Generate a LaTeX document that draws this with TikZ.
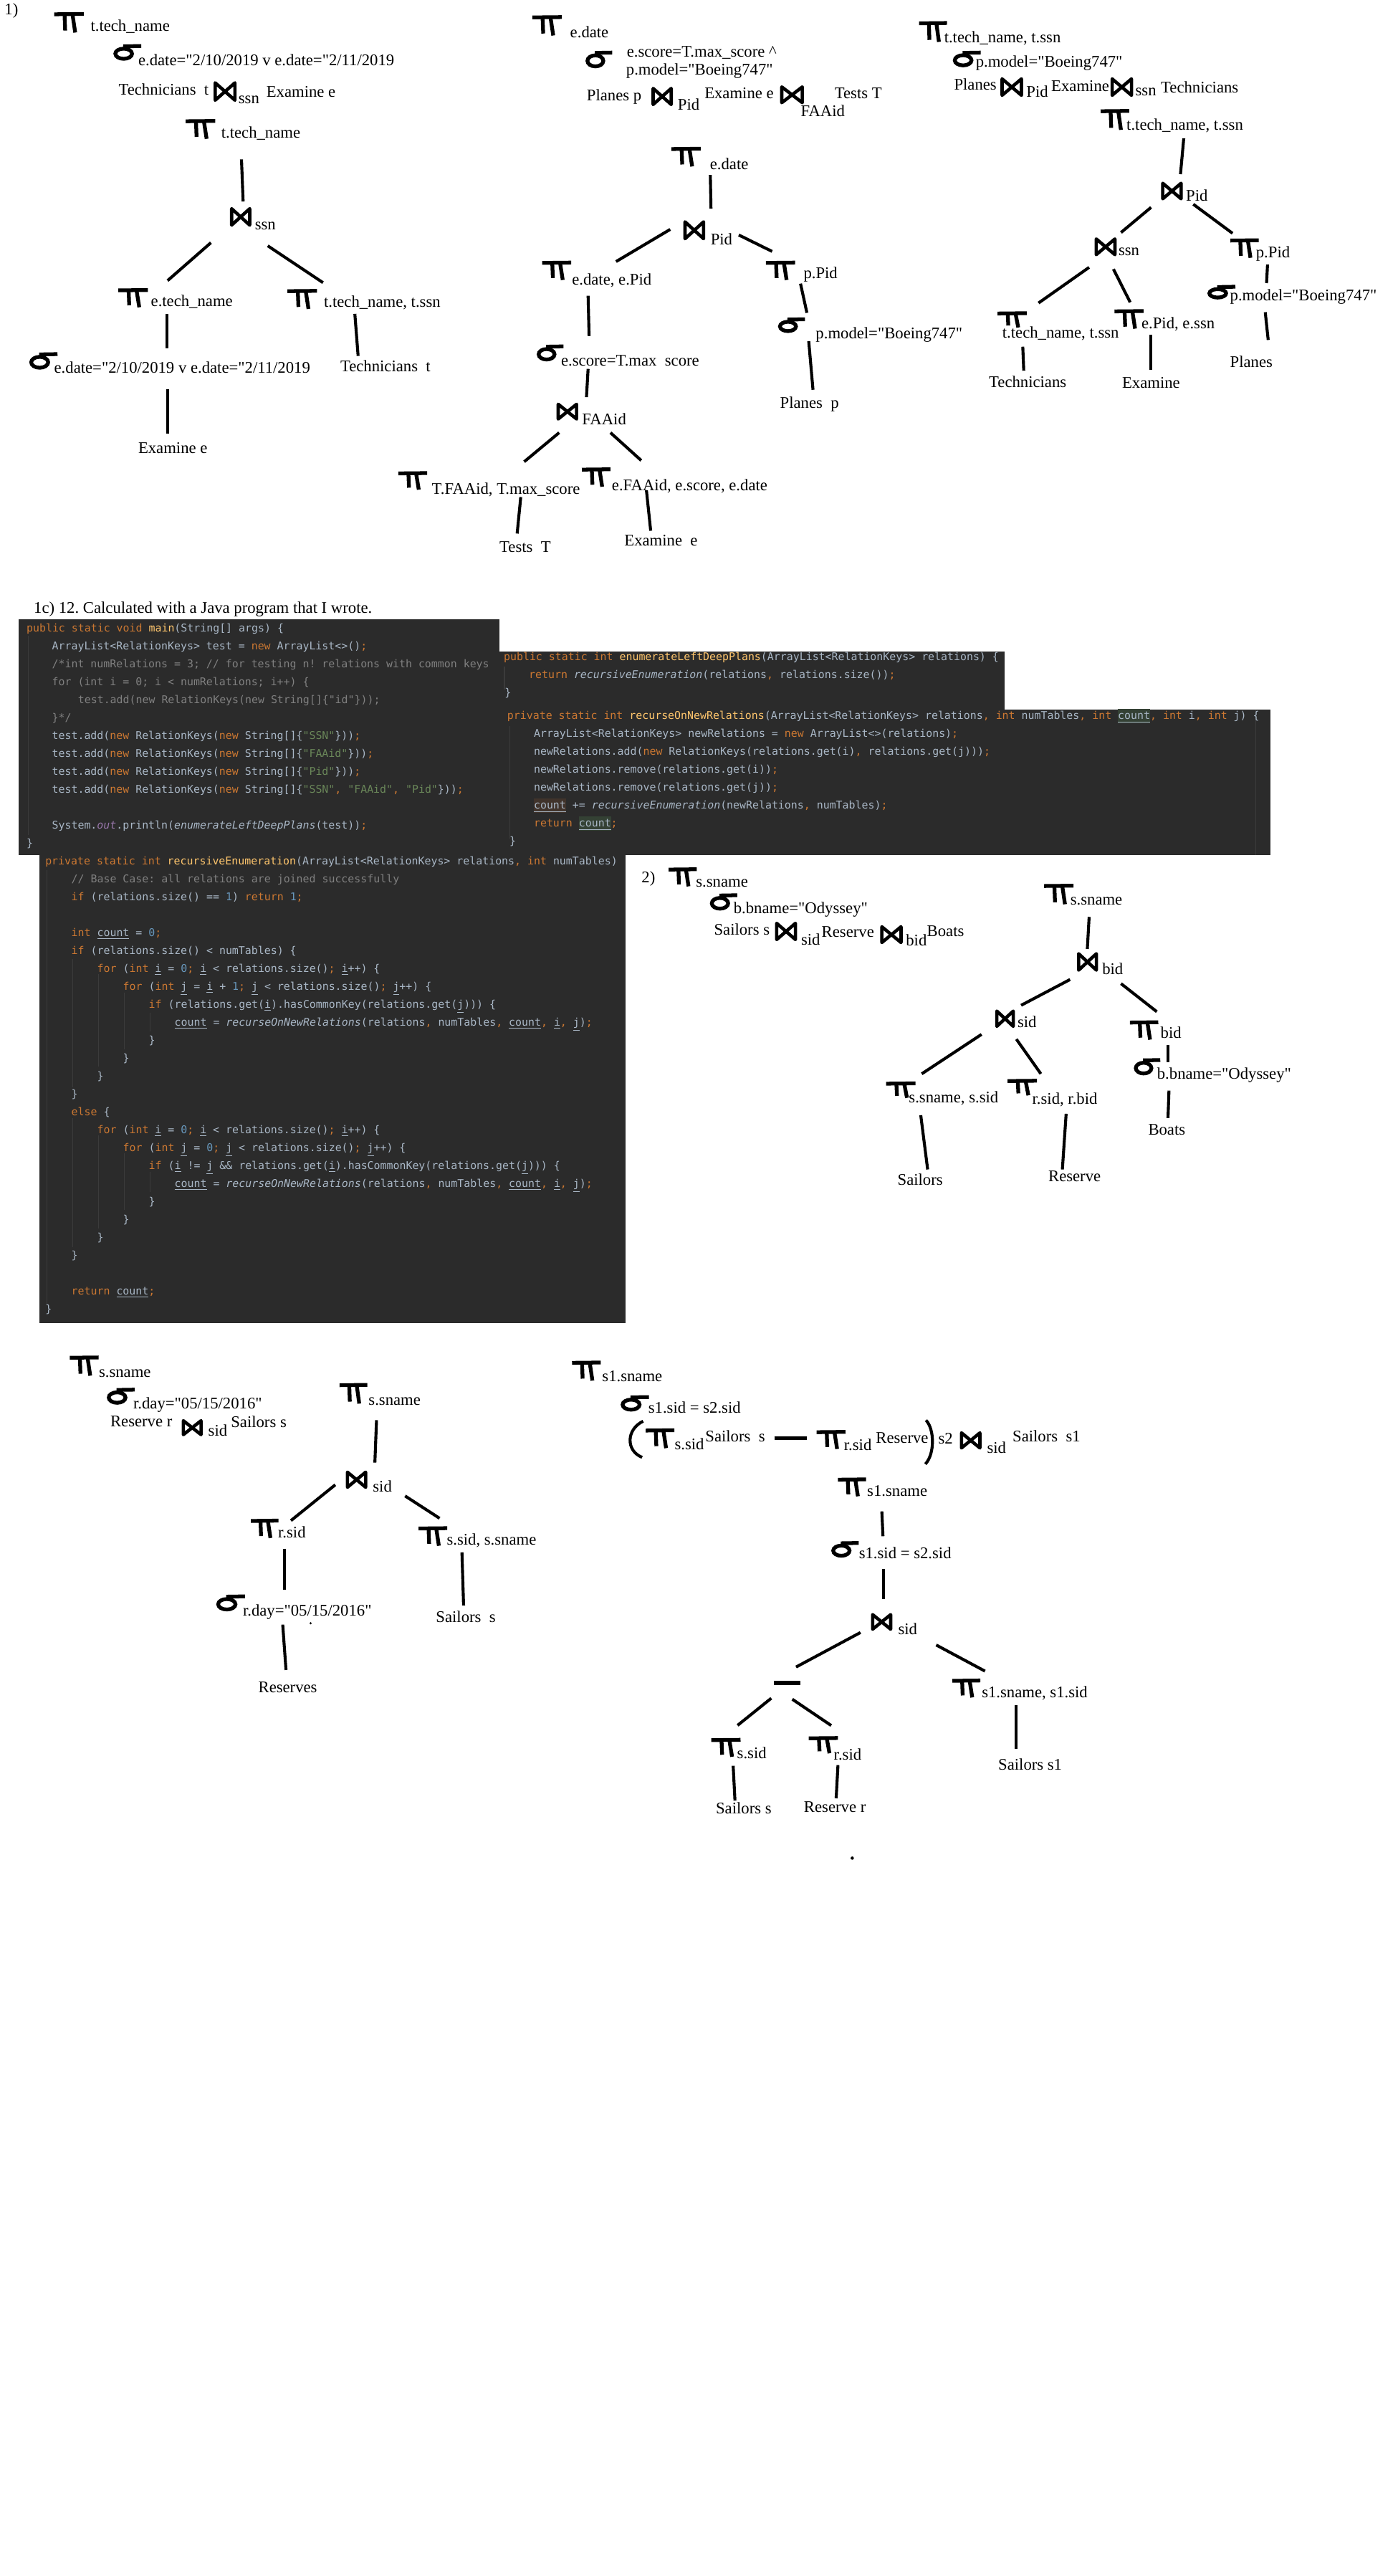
\documentclass[tikz,border=0pt]{standalone}
\usepackage{fontspec}
\setmainfont{Liberation Serif}[Ligatures=TeXOff]
\newfontfamily\codefont{DejaVu Sans Mono}[Ligatures=TeXOff]
\frenchspacing
\definecolor{cbg}{HTML}{2B2B2B}
\definecolor{ctext}{HTML}{A9B7C6}
\definecolor{ckwc}{HTML}{CC7832}
\definecolor{cfnc}{HTML}{FFC66D}
\definecolor{cstrc}{HTML}{6A8759}
\definecolor{cnumc}{HTML}{6897BB}
\definecolor{ccmtc}{HTML}{808080}
\definecolor{cpurc}{HTML}{9876AA}
\definecolor{cguide}{HTML}{3B3B3B}
\definecolor{creadbg}{HTML}{344134}
\definecolor{cwritebg}{HTML}{40332B}
\newcommand\ckw[1]{\textcolor{ckwc}{#1}}
\newcommand\cfn[1]{\textcolor{cfnc}{#1}}
\newcommand\cstr[1]{\textcolor{cstrc}{#1}}
\newcommand\cnum[1]{\textcolor{cnumc}{#1}}
\newcommand\ccmt[1]{\textcolor{ccmtc}{#1}}
\newcommand\cpu[1]{\textcolor{cpurc}{\textit{#1}}}
\newcommand\cit[1]{\textit{#1}}
\newcommand\cul[1]{\underline{#1}}
\newcommand\ccomma{\textcolor{ckwc}{,}}
\newcommand\csemi{\textcolor{ckwc}{;}}
\newcommand\crd[1]{{\setlength{\fboxsep}{0pt}\colorbox{creadbg}{\rule[-2.2pt]{0pt}{8.6pt}\underline{#1}}}}
\newcommand\cwr[1]{{\setlength{\fboxsep}{0pt}\colorbox{cwritebg}{\rule[-2.2pt]{0pt}{8.6pt}\underline{#1}}}}
% hand drawn symbols: x1 y1 x2 y2 (y grows downward)
\newcommand\symPi[4]{%
  \draw[sym] (#1,{#2+1.2}) -- (#3,{#2+1.0});
  \draw[sym] ({#1+0.35*(#3-#1)},{#2+1.5}) -- ({#1+0.37*(#3-#1)},{#4-1.2});
  \draw[sym] ({#1+0.62*(#3-#1)},{#2+1.5}) -- ({#1+0.71*(#3-#1)},#4);}
\newcommand\symSigma[4]{%
  \draw[sym] ({#1+0.37*(#3-#1)},{#2+0.57*(#4-#2)}) ellipse [x radius={0.37*(#3-#1)-1.2}, y radius={0.43*(#4-#2)-1.2}];
  \draw[sym] ({#1+0.35*(#3-#1)},{#2+1.2}) -- (#3,{#2+1.0});}
\newcommand\symJoin[4]{%
  \draw[jsym] ({#1+1},{#2+1}) -- ({#3-1},{#4-1}) -- ({#3-1},{#2+1}) -- ({#1+1},{#4-1}) -- cycle;}
\newcommand\conn[3]{\coordinate (#1s) at (#2); \coordinate (#1e) at (#3); \draw[conn] (#1s) -- (#1e);}
\begin{document}
\begin{tikzpicture}[x=1pt,y=-1pt,
  lbl/.style={anchor=base west, inner sep=0pt, font=\fontsize{9.9}{11}\selectfont},
  code/.style={anchor=base west, inner sep=0pt, text=ctext, font=\codefont\fontsize{6.5}{7}\selectfont},
  sym/.style={line width=2.3pt, line cap=butt},
  jsym/.style={line width=2pt, line join=round},
  conn/.style={line width=1.8pt},
  guide/.style={line width=0.5pt, draw=cguide}]
\useasboundingbox (0,0) rectangle (851,1567.7);
\fill[white] (0,0) rectangle (851,1567.7);

%================ Tree A =================
\node[lbl] (lab1) at (2.6,8.8) {1)};
\symPi{33}{7.5}{51}{19.8}
\node[lbl] (a1) at (55,18.9) {t.tech\_name};
\symSigma{69}{27}{86}{37}
\node[lbl] (a2) at (84,40) {e.date="2/10/2019 v e.date="2/11/2019};
\node[lbl] (a3) at (72,58) {Technicians\ \ t};
\symJoin{130}{49.4}{144}{62}
\node[lbl] (a4) at (145,63) {ssn};
\node[lbl] (a5) at (162,59) {Examine e};
\symPi{113}{72.6}{131}{84.5}
\node[lbl] (a6) at (134.5,84) {t.tech\_name};
\conn{ca1}{147,97}{148,122.6}
\symJoin{140}{126}{153}{138}
\node[lbl] (a7) at (155,140) {ssn};
\conn{ca2}{128.4,147.7}{102,170.8}
\conn{ca3}{163,149.6}{196.6,172}
\symPi{72}{175.5}{90}{187}
\node[lbl] (a8) at (91.7,186.4) {e.tech\_name};
\symPi{175}{176}{193}{188}
\node[lbl] (a9) at (197,187) {t.tech\_name, t.ssn};
\conn{ca4}{101.7,191}{101.7,212}
\conn{ca5}{216,191}{218,216.6}
\symSigma{17.8}{214.5}{35}{225}
\node[lbl] (a10) at (32.8,227) {e.date="2/10/2019 v e.date="2/11/2019};
\node[lbl] (a11) at (207,226) {Technicians\ \ t};
\conn{ca6}{102,236.8}{102,263.8}
\node[lbl] (a12) at (84,276) {Examine e};

%================ Tree B =================
\symPi{324}{9.4}{342}{21.6}
\node[lbl] (b1) at (346.9,23) {e.date};
\symSigma{356.4}{31}{372.7}{41.6}
\node[lbl] (b2) at (381.4,34.5) {e.score=T.max\_score \textasciicircum};
\node[lbl] (b3) at (381,45.7) {p.model="Boeing747"};
\node[lbl] (b4) at (357,61.2) {Planes p};
\symJoin{396.6}{52.8}{409.6}{64.6}
\node[lbl] (b5) at (412.4,66.8) {Pid};
\node[lbl] (b6) at (428.7,60) {Examine e};
\symJoin{474.9}{51.9}{489.4}{63.5}
\node[lbl] (b7) at (507.9,60) {Tests T};
\node[lbl] (b8) at (487.3,70.8) {FAAid};
\symPi{408.7}{89.5}{426.5}{101.3}
\node[lbl] (b9) at (432,103) {e.date};
\conn{cb1}{432.4,106.5}{432.8,127}
\symJoin{416}{134}{429.3}{146.3}
\node[lbl] (b10) at (432.4,148.8) {Pid};
\conn{cb2}{408,139.6}{375,159.2}
\conn{cb3}{449.7,143}{470,153}
\symPi{330}{158.8}{347.7}{170.4}
\node[lbl] (b11) at (348,173.3) {e.date, e.Pid};
\symPi{466.2}{158.8}{484}{170.4}
\node[lbl] (b12) at (489,169.3) {p.Pid};
\conn{cb4}{358,180}{358.6,204.5}
\conn{cb5}{487.3,172.6}{491.2,190.4}
\symSigma{326.7}{209.8}{343}{220}
\node[lbl] (b13) at (341.4,222.7) {e.score=T.max\phantom{\_}score};
\symSigma{473.6}{193.3}{490}{202.7}
\node[lbl] (b14) at (496.4,206) {p.model="Boeing747"};
\conn{cb6}{358,224.5}{357,241.7}
\symJoin{338.8}{245}{352}{256}
\node[lbl] (b15) at (354.2,258.4) {FAAid};
\conn{cb7}{340.4,263.3}{319.1,281}
\conn{cb8}{371.6,263.3}{390.3,280.2}
\conn{cb9}{492.3,207.6}{494.9,237.2}
\node[lbl] (b16) at (474.7,248.3) {Planes\ \ p};
\symPi{242.5}{286.9}{260}{298}
\node[lbl] (b17) at (262.7,300.7) {T.FAAid, T.max\_score};
\symPi{354.2}{284.6}{371.6}{296.2}
\node[lbl] (b18) at (372.3,298.4) {e.FAAid, e.score, e.date};
\conn{cb10}{317,302.5}{314.8,324.7}
\conn{cb11}{393.5,298.4}{396.1,323}
\node[lbl] (b19) at (303.9,336.3) {Tests\ \ T};
\node[lbl] (b20) at (379.9,332.3) {Examine\ \ e};

%================ Tree C =================
\symPi{559.5}{13}{576.5}{25.5}
\node[lbl] (c1) at (574.6,25.8) {t.tech\_name, t.ssn};
\symSigma{580}{31}{597}{41}
\node[lbl] (c2) at (593.8,41) {p.model="Boeing747"};
\node[lbl] (c3) at (580.6,54.9) {Planes};
\symJoin{609}{47}{622.8}{59}
\node[lbl] (c4) at (624.6,58.9) {Pid};
\node[lbl] (c5) at (639.8,55.7) {Examine};
\symJoin{676}{47}{689.8}{59}
\node[lbl] (c6) at (691,58.4) {ssn};
\node[lbl] (c7) at (706.5,56.5) {Technicians};
\symPi{670}{66.5}{687.4}{79}
\node[lbl] (c8) at (685.6,79) {t.tech\_name, t.ssn};
\conn{cc1}{720.6,84.2}{718.6,106}
\symJoin{706.8}{110.5}{720}{122}
\node[lbl] (c9) at (721.8,122.2) {Pid};
\conn{cc2}{700.7,126.2}{682.4,141.5}
\conn{cc3}{726.4,124.3}{750.3,142}
\symJoin{666.3}{144.4}{679.7}{156}
\node[lbl] (c10) at (680.7,155.7) {ssn};
\symPi{749}{145.2}{766.2}{156.9}
\node[lbl] (c11) at (764.4,156.9) {p.Pid};
\conn{cc4}{663,162.7}{632.2,184.4}
\conn{cc5}{677.8,163.8}{688,184}
\conn{cc6}{771.6,161}{771,172.3}
\symSigma{735}{173.5}{752}{182.3}
\node[lbl] (c12) at (748.6,183.2) {p.model="Boeing747"};
\symPi{607.2}{189.6}{625}{199.3}
\node[lbl] (c13) at (610,205.7) {t.tech\_name, t.ssn};
\symPi{678.4}{188.3}{696.1}{200}
\node[lbl] (c14) at (694.7,200) {e.Pid, e.ssn};
\conn{cc7}{770.2,190}{772,206.9}
\conn{cc8}{622.6,211}{623.2,225.6}
\conn{cc9}{700.7,203.6}{700.7,225}
\node[lbl] (c15) at (601.8,235.6) {Technicians};
\node[lbl] (c16) at (682.9,236.4) {Examine};
\node[lbl] (c17) at (748.6,223.5) {Planes};

%================ 1c text and code =================
\node[lbl] (q1) at (20.4,373) {1c) 12. Calculated with a Java program that I wrote.};

\fill[cbg] (11.3,376.9) rectangle (304,520.2);
\fill[cbg] (304,396.5) rectangle (611.6,431.8);
\fill[cbg] (304,431.8) rectangle (773.4,520.2);
\fill[cbg] (24.1,520.2) rectangle (381,805.1);

% guides
\draw[guide] (17.1,386.8) -- (17.1,508);
\draw[guide] (307.1,405.6) -- (307.1,419.5);
\draw[guide] (310.2,442) -- (310.2,510.3);
\draw[guide] (764.6,431.8) -- (764.6,520.2);
\draw[guide] (28.5,529.6) -- (28.5,794.3);
\draw[guide] (44.3,583.7) -- (44.3,661.9);
\draw[guide] (44.3,680.6) -- (44.3,758.9);
\draw[guide] (60,593) -- (60,648.9);
\draw[guide] (60,690.8) -- (60,747.7);
\draw[guide] (75.8,604.2) -- (75.8,638.7);
\draw[guide] (75.8,702) -- (75.8,736.5);
\draw[guide] (91.5,616.3) -- (91.5,627.5);
\draw[guide] (91.5,713.2) -- (91.5,725.3);

% block 1
\node[code] (k1) at (16,384.6) {\ckw{public static void} \cfn{main}(String[] args) \{};
\node[code] (k2) at (31.5,395.5) {ArrayList<RelationKeys> test = \ckw{new} ArrayList<>()\csemi};
\node[code] (k3) at (31.5,406.4) {\ccmt{/*int numRelations = 3; // for testing n! relations with common keys}};
\node[code] (k4) at (31.5,417.3) {\ccmt{for (int i = 0; i < numRelations; i++) \{}};
\node[code] (k5) at (47.3,428.2) {\ccmt{test.add(new RelationKeys(new String[]\{"id"\}));}};
\node[code] (k6) at (31.5,439.1) {\ccmt{\}*/}};
\node[code] (k7) at (31.5,450.0) {test.add(\ckw{new} RelationKeys(\ckw{new} String[]\{\cstr{"SSN"}\}))\csemi};
\node[code] (k8) at (31.5,460.9) {test.add(\ckw{new} RelationKeys(\ckw{new} String[]\{\cstr{"FAAid"}\}))\csemi};
\node[code] (k9) at (31.5,471.8) {test.add(\ckw{new} RelationKeys(\ckw{new} String[]\{\cstr{"Pid"}\}))\csemi};
\node[code] (k10) at (31.5,482.7) {test.add(\ckw{new} RelationKeys(\ckw{new} String[]\{\cstr{"SSN"}\ccomma{} \cstr{"FAAid"}\ccomma{} \cstr{"Pid"}\}))\csemi};
\node[code] (k11) at (31.5,504.5) {System.\cpu{out}.println(\cit{enumerateLeftDeepPlans}(test))\csemi};
\node[code] (k12) at (16,515.4) {\}};

% block 2
\node[code] (m1) at (306.5,402.0) {\ckw{public static int} \cfn{enumerateLeftDeepPlans}(ArrayList<RelationKeys> relations) \{};
\node[code] (m2) at (321.8,412.9) {\ckw{return} \cit{recursiveEnumeration}(relations\ccomma{} relations.size())\csemi};
\node[code] (m3) at (307,423.8) {\}};
\node[code] (m4) at (308.6,437.9) {\ckw{private static int} \cfn{recurseOnNewRelations}(ArrayList<RelationKeys> relations\ccomma{} \ckw{int} numTables\ccomma{} \ckw{int} \crd{count}\ccomma{} \ckw{int} i\ccomma{} \ckw{int} j) \{};
\node[code] (m5) at (324.8,448.8) {ArrayList<RelationKeys> newRelations = \ckw{new} ArrayList<>(relations)\csemi};
\node[code] (m6) at (324.8,459.7) {newRelations.add(\ckw{new} RelationKeys(relations.get(i)\ccomma{} relations.get(j)))\csemi};
\node[code] (m7) at (324.8,470.6) {newRelations.remove(relations.get(i))\csemi};
\node[code] (m8) at (324.8,481.5) {newRelations.remove(relations.get(j))\csemi};
\node[code] (m9) at (324.8,492.4) {\cwr{count} += \cit{recursiveEnumeration}(newRelations\ccomma{} numTables)\csemi};
\node[code] (m10) at (324.8,503.3) {\ckw{return} \crd{count}\csemi};
\node[code] (m11) at (310,514.2) {\}};

% block 3
\node[code] (r0) at (27.4,526.3) {\ckw{private static int} \cfn{recursiveEnumeration}(ArrayList<RelationKeys> relations\ccomma{} \ckw{int} numTables)};
\node[code] (r1) at (43.3,537.2) {\ccmt{// Base Case: all relations are joined successfully}};
\node[code] (r2) at (43.3,548.1) {\ckw{if} (relations.size() == \cnum{1}) \ckw{return} \cnum{1}\csemi};
\node[code] (r4) at (43.3,569.9) {\ckw{int} \cul{count} = \cnum{0}\csemi};
\node[code] (r5) at (43.3,580.8) {\ckw{if} (relations.size() < numTables) \{};
\node[code] (r6) at (59.0,591.7) {\ckw{for} (\ckw{int} \cul{i} = \cnum{0}\csemi{} \cul{i} < relations.size()\csemi{} \cul{i}++) \{};
\node[code] (r7) at (74.7,602.6) {\ckw{for} (\ckw{int} \cul{j} = \cul{i} + \cnum{1}\csemi{} \cul{j} < relations.size()\csemi{} \cul{j}++) \{};
\node[code] (r8) at (90.4,613.5) {\ckw{if} (relations.get(\cul{i}).hasCommonKey(relations.get(\cul{j}))) \{};
\node[code] (r9) at (106.1,624.4) {\cul{count} = \cit{recurseOnNewRelations}(relations\ccomma{} numTables\ccomma{} \cul{count}\ccomma{} \cul{i}\ccomma{} \cul{j})\csemi};
\node[code] (r10) at (90.4,635.3) {\}};
\node[code] (r11) at (74.7,646.2) {\}};
\node[code] (r12) at (59.0,657.1) {\}};
\node[code] (r13) at (43.3,668.0) {\}};
\node[code] (r14) at (43.3,678.9) {\ckw{else} \{};
\node[code] (r15) at (59.0,689.8) {\ckw{for} (\ckw{int} \cul{i} = \cnum{0}\csemi{} \cul{i} < relations.size()\csemi{} \cul{i}++) \{};
\node[code] (r16) at (74.7,700.7) {\ckw{for} (\ckw{int} \cul{j} = \cnum{0}\csemi{} \cul{j} < relations.size()\csemi{} \cul{j}++) \{};
\node[code] (r17) at (90.4,711.6) {\ckw{if} (\cul{i} != \cul{j} \&\& relations.get(\cul{i}).hasCommonKey(relations.get(\cul{j}))) \{};
\node[code] (r18) at (106.1,722.5) {\cul{count} = \cit{recurseOnNewRelations}(relations\ccomma{} numTables\ccomma{} \cul{count}\ccomma{} \cul{i}\ccomma{} \cul{j})\csemi};
\node[code] (r19) at (90.4,733.4) {\}};
\node[code] (r20) at (74.7,744.3) {\}};
\node[code] (r21) at (59.0,755.2) {\}};
\node[code] (r22) at (43.3,766.1) {\}};
\node[code] (r24) at (43.3,787.9) {\ckw{return} \cul{count}\csemi};
\node[code] (r25) at (27.4,798.8) {\}};

%================ Section 2 =================
\node[lbl] (lab2) at (390.4,537.2) {2)};
\symPi{407}{528}{424.1}{539.4}
\node[lbl] (s1) at (423.5,539.7) {s.sname};
\symSigma{432.1}{543.8}{448.8}{554.2}
\node[lbl] (s2) at (446.4,556.1) {b.bname="Odyssey"};
\node[lbl] (s3) at (434.5,569.2) {Sailors s};
\symJoin{471.8}{560.9}{485.2}{572.8}
\node[lbl] (s4) at (487.5,575) {sid};
\node[lbl] (s5) at (500,570.2) {Reserve};
\symJoin{535.8}{563}{549.5}{574.6}
\node[lbl] (s6) at (551.3,575.4) {bid};
\node[lbl] (s7) at (564.1,569.9) {Boats};
\symPi{635.6}{538}{653.5}{550.3}
\node[lbl] (s8) at (651.4,550.7) {s.sname};
\conn{cs1}{663,558}{661.9,577.5}
\symJoin{655.6}{579.4}{668.4}{591.4}
\node[lbl] (s9) at (670.8,592.9) {bid};
\conn{cs2}{651.4,596.1}{621.6,611.8}
\conn{cs3}{682.4,598.6}{704.2,615.7}
\symJoin{605.8}{614.3}{617.8}{625.6}
\node[lbl] (s10) at (619.2,625.2) {sid};
\symPi{687.8}{621.1}{705.1}{632.7}
\node[lbl] (s11) at (706.3,631.7) {bid};
\conn{cs4}{711,636.1}{711,646.3}
\symSigma{690.2}{644.1}{706.3}{654.5}
\node[lbl] (s12) at (704.2,656.9) {b.bname="Odyssey"};
\conn{cs5}{711.6,663.7}{711,680.4}
\node[lbl] (s13) at (698.8,690.6) {Boats};
\conn{cs6}{597.5,629.5}{561.1,653.5}
\conn{cs7}{618.7,632.4}{633.6,653.5}
\symPi{539.4}{658.3}{557.3}{668.1}
\node[lbl] (s14) at (553.1,671) {s.sname, s.sid};
\symPi{613.3}{656.7}{631.2}{666.6}
\node[lbl] (s15) at (628.2,672) {r.sid, r.bid};
\conn{cs8}{560.5,678.7}{564.7,711.7}
\conn{cs9}{649,677.8}{646.7,711.7}
\node[lbl] (s16) at (546.2,721.1) {Sailors};
\node[lbl] (s17) at (638,719) {Reserve};

%================ Bottom left =================
\symPi{42.5}{825.1}{60}{837.2}
\node[lbl] (u1) at (60,838.2) {s.sname};
\symSigma{65}{844.7}{82}{854.9}
\node[lbl] (u2) at (81,857.5) {r.day="05/15/2016"};
\node[lbl] (u3) at (67,868.3) {Reserve r};
\symJoin{110.6}{863.6}{123.4}{874.1}
\node[lbl] (u4) at (126.6,873.8) {sid};
\node[lbl] (u5) at (140.4,868.7) {Sailors s};
\symPi{206.7}{841.8}{223.6}{854.2}
\node[lbl] (u6) at (224.2,855.3) {s.sname};
\conn{cu1}{229.2,864.3}{228.2,890.1}
\symJoin{210.5}{894.9}{223.6}{906.1}
\node[lbl] (u7) at (226.8,908) {sid};
\conn{cu2}{204.1,903.6}{177.1,925.4}
\conn{cu3}{246.6,910.4}{267.6,924}
\symPi{152.7}{924.4}{169.5}{936}
\node[lbl] (u8) at (169.1,936) {r.sid};
\symPi{254.8}{929}{272.2}{940.7}
\node[lbl] (u9) at (271.8,940.4) {s.sid, s.sname};
\conn{cu4}{173.1,942.4}{173.1,967.6}
\conn{cu5}{281.2,944.7}{282.2,977}
\symSigma{131.6}{970.5}{149.1}{980.7}
\node[lbl] (u10) at (147.7,983.6) {r.day="05/15/2016"};
\fill (189.1,987.9) circle (0.7);
\conn{cu6}{172.1,988.7}{174.1,1016.3}
\node[lbl] (u11) at (157.1,1030.1) {Reserves};
\node[lbl] (u12) at (265.2,987.5) {Sailors\ \ s};

%================ Bottom right =================
\symPi{348.2}{828.2}{365.7}{840.2}
\node[lbl] (v1) at (366.4,840.6) {s1.sname};
\symSigma{377.8}{849.2}{395}{859.1}
\node[lbl] (v2) at (394.5,860.1) {s1.sid = s2.sid};
\draw[conn] (391.5,864.9) .. controls (381,870) and (381,883) .. (390.9,886.9);
\symPi{393.1}{869.4}{410.5}{881.3}
\node[lbl] (v3) at (410.5,882.2) {s.sid};
\node[lbl] (v4) at (429.2,877.6) {Sailors\ \ s};
\draw[sym] (471.4,875.2) -- (491.2,875.2);
\symPi{497.1}{870.4}{514.7}{881.8}
\node[lbl] (v5) at (513.6,882.8) {r.sid};
\node[lbl] (v6) at (533,878.3) {Reserve};
\draw[conn] (563.7,864.3) .. controls (569,870) and (569,885) .. (563.3,891);
\node[lbl] (v7) at (571,878.7) {s2};
\symJoin{584.3}{871}{597.5}{882.2}
\node[lbl] (v8) at (600.7,884.4) {sid};
\node[lbl] (v9) at (616.2,877.6) {Sailors\ \ s1};
\symPi{510.1}{899.3}{527.2}{910.6}
\node[lbl] (v10) at (527.7,910.6) {s1.sname};
\conn{cv1}{536.8,919.8}{537.5,934.9}
\symSigma{506}{938}{522.7}{948}
\node[lbl] (v11) at (522.7,948.7) {s1.sid = s2.sid};
\conn{cv2}{537.7,954.8}{537.7,973}
\symJoin{530.2}{981.6}{543.2}{992.5}
\node[lbl] (v12) at (546.6,994.6) {sid};
\conn{cv3}{523.8,993.5}{484.6,1014.5}
\conn{cv4}{569.9,1001.1}{599.6,1017}
\draw[sym] (470.9,1024.2) -- (487.3,1024.2);
\conn{cv5}{469.5,1033.5}{449,1050}
\conn{cv6}{482.3,1034.1}{506,1050.1}
\symPi{579.7}{1021.7}{596.8}{1033}
\node[lbl] (v13) at (597.5,1033) {s1.sname, s1.sid};
\conn{cv7}{618.5,1037.8}{618.5,1064.3}
\node[lbl] (v14) at (607.5,1077.3) {Sailors s1};
\symPi{433}{1057.8}{450.8}{1069.1}
\node[lbl] (v15) at (448.5,1070.1) {s.sid};
\symPi{492.3}{1056.7}{510.1}{1067}
\node[lbl] (v16) at (507.4,1071.1) {r.sid};
\conn{cv8}{446.3,1074.6}{447.4,1095.8}
\conn{cv9}{510.1,1074.2}{509,1094.4}
\node[lbl] (v17) at (435.6,1103.7) {Sailors s};
\node[lbl] (v18) at (489.2,1103) {Reserve r};
\fill (518.8,1130.8) circle (1);
\end{tikzpicture}
\end{document}
